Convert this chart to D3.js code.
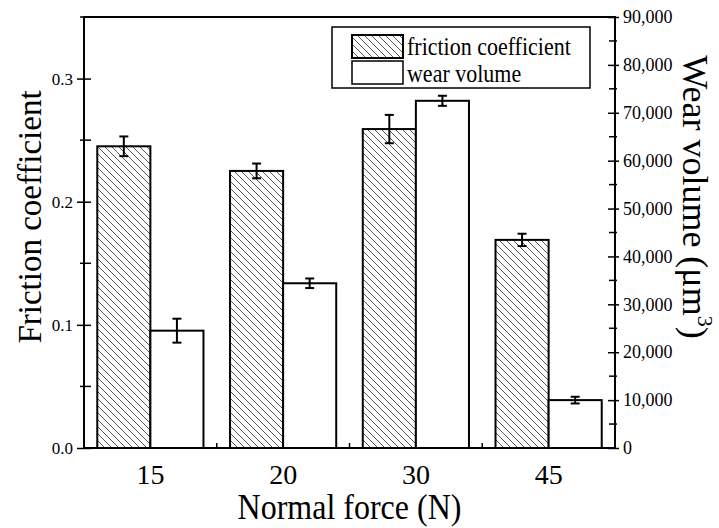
<!DOCTYPE html>
<html lang="en">
    <head>
        <meta charset="UTF-8">
        <style>
            html, body{
                margin: 0;
                padding: 0;
                background: #fff;
            }
            svg text{
                font-family: 'Liberation Serif', 'Times New Roman', serif;
                fill: #000;
            }
        </style>
    </head>
    <body>
        <svg id="chart" width="719" height="528"></svg>

        <script src="https://cdnjs.cloudflare.com/ajax/libs/d3/7.8.5/d3.min.js"></script>
        <script>
            // data
            const categories = ['15', '20', '30', '45']
            const frictionValues = [0.245, 0.225, 0.259, 0.169]
            const frictionErrors = [0.008, 0.006, 0.0115, 0.005]
            const wearValues = [24500, 34400, 72500, 10000]
            const wearErrors = [2500, 1000, 1050, 700]
            const leftTickValues = [0, 0.1, 0.2, 0.3]
            const rightTickValues = [0, 10000, 20000, 30000, 40000, 50000, 60000, 70000, 80000, 90000]
            const seriesNames = ['friction coefficient', 'wear volume']

            const settings = {
                width: 719,
                height: 528,
                margin: {left: 84, right: 104, top: 17, bottom: 80}
            }
            const innerLeft = settings.margin.left
            const innerRight = settings.width - settings.margin.right
            const innerTop = settings.margin.top
            const innerBottom = settings.height - settings.margin.bottom

            const svg = d3.select('#chart')

            // hatch pattern
            const defs = svg.append('defs')
            defs.append('pattern')
                .attr('id', 'hatch')
                .attr('patternUnits', 'userSpaceOnUse')
                .attr('width', 7)
                .attr('height', 7)
                .append('path')
                .attr('d', 'M0,0 L7,7 M-1,6 L1,8 M6,-1 L8,1')
                .attr('stroke', '#444')
                .attr('stroke-width', 0.9)

            // scales
            const x = d3.scaleBand()
                .domain(categories)
                .range([innerLeft, innerRight])
                .paddingInner(0.2)
                .paddingOuter(0.1)
            const xSub = d3.scaleBand()
                .domain(seriesNames)
                .range([0, x.bandwidth()])
            const yL = d3.scaleLinear().domain([0, 0.35]).range([innerBottom, innerTop])
            const yR = d3.scaleLinear().domain([0, 90000]).range([innerBottom, innerTop])

            // bars
            const rows = categories.map((c, i) => ({
                cat: c,
                f: frictionValues[i], fe: frictionErrors[i],
                w: wearValues[i], we: wearErrors[i]
            }))
            const barGroup = svg.append('g')
            barGroup.selectAll('rect.friction')
                .data(rows).join('rect')
                .attr('class', 'friction')
                .attr('x', d => x(d.cat) + xSub(seriesNames[0]))
                .attr('y', d => yL(d.f))
                .attr('width', xSub.bandwidth())
                .attr('height', d => yL(0) - yL(d.f))
                .attr('fill', 'url(#hatch)')
                .attr('stroke', '#000')
                .attr('stroke-width', 2)
            barGroup.selectAll('rect.wear')
                .data(rows).join('rect')
                .attr('class', 'wear')
                .attr('x', d => x(d.cat) + xSub(seriesNames[1]))
                .attr('y', d => yR(d.w))
                .attr('width', xSub.bandwidth())
                .attr('height', d => yR(0) - yR(d.w))
                .attr('fill', '#fff')
                .attr('stroke', '#000')
                .attr('stroke-width', 2)

            // error bars
            function errorBar(cx, yTop, yBot){
                const g = barGroup.append('g').attr('stroke', '#000').attr('stroke-width', 2)
                g.append('line').attr('x1', cx).attr('x2', cx).attr('y1', yTop).attr('y2', yBot)
                g.append('line').attr('x1', cx - 4.5).attr('x2', cx + 4.5).attr('y1', yTop).attr('y2', yTop)
                g.append('line').attr('x1', cx - 4.5).attr('x2', cx + 4.5).attr('y1', yBot).attr('y2', yBot)
            }
            rows.forEach(d => {
                const cf = x(d.cat) + xSub(seriesNames[0]) + xSub.bandwidth() / 2
                errorBar(cf, yL(d.f + d.fe), yL(d.f - d.fe))
                const cw = x(d.cat) + xSub(seriesNames[1]) + xSub.bandwidth() / 2
                errorBar(cw, yR(d.w + d.we), yR(d.w - d.we))
            })

            // frame
            svg.append('rect')
                .attr('x', innerLeft).attr('y', innerTop)
                .attr('width', innerRight - innerLeft).attr('height', innerBottom - innerTop)
                .attr('fill', 'none').attr('stroke', '#000').attr('stroke-width', 2)

            // left axis
            const leftAxis = svg.append('g')
                .attr('transform', `translate(${innerLeft},0)`)
                .call(d3.axisLeft(yL).tickValues(leftTickValues).tickFormat(d3.format('.1f')).tickSize(7).tickPadding(4))
            leftAxis.select('.domain').remove()
            leftAxis.selectAll('.tick line').attr('x1', 7).attr('stroke-width', 1.5)
            leftAxis.selectAll('.tick text').attr('font-size', 17).attr('font-family', 'Liberation Serif')
            svg.append('g').selectAll('line')
                .data(yL.ticks(7).filter(v => !leftTickValues.some(t => Math.abs(t - v) < 1e-9)))
                .join('line')
                .attr('x1', innerLeft - 4).attr('x2', innerLeft + 7)
                .attr('y1', d => yL(d)).attr('y2', d => yL(d))
                .attr('stroke', '#000').attr('stroke-width', 1.5)

            // right axis
            const rightAxis = svg.append('g')
                .attr('transform', `translate(${innerRight},0)`)
                .call(d3.axisRight(yR).tickValues(rightTickValues).tickFormat(d3.format(',')).tickSize(4).tickPadding(4))
            rightAxis.select('.domain').remove()
            rightAxis.selectAll('.tick line').attr('x1', -7).attr('stroke-width', 1.5)
            rightAxis.selectAll('.tick text').attr('font-size', 18).attr('font-family', 'Liberation Serif')
            svg.append('g').selectAll('line')
                .data(yR.ticks(18).filter(v => !rightTickValues.includes(v)))
                .join('line')
                .attr('x1', innerRight - 6).attr('x2', innerRight + 2)
                .attr('y1', d => yR(d)).attr('y2', d => yR(d))
                .attr('stroke', '#000').attr('stroke-width', 1.5)

            // bottom axis: small inward ticks at group boundaries, labels at centres
            const bottomAxis = svg.append('g')
                .attr('transform', `translate(0,${innerBottom})`)
                .call(d3.axisBottom(x).tickSize(0).tickPadding(16))
            bottomAxis.select('.domain').remove()
            bottomAxis.selectAll('.tick text').attr('font-size', 28).attr('font-family', 'Liberation Serif')
            svg.append('g').selectAll('line')
                .data(categories.slice(1))
                .join('line')
                .attr('x1', d => x(d) - x.step() * x.paddingInner() / 2)
                .attr('x2', d => x(d) - x.step() * x.paddingInner() / 2)
                .attr('y1', innerBottom).attr('y2', innerBottom - 5)
                .attr('stroke', '#000').attr('stroke-width', 1.5)

            // titles (glyphs in the picture are a little taller than the font)
            function stretchedText(tx, ty, rot, size, sy, str){
                return svg.append('text')
                    .attr('transform', `translate(${tx},${ty}) rotate(${rot}) scale(1,${sy})`)
                    .attr('text-anchor', 'middle')
                    .attr('font-size', size)
                    .text(str)
            }
            stretchedText((innerLeft + innerRight) / 2, 519, 0, 32, 1.12, 'Normal force (N)')
            stretchedText(41, 217, -90, 33, 1.05, 'Friction coefficient')
            const rt = stretchedText(683, 197, 90, 36, 1.0, null)
            rt.append('tspan').text('Wear volume (\u03bcm')
            rt.append('tspan').attr('font-size', 22).attr('dy', -15).text('3')
            rt.append('tspan').attr('dy', 15).text(')')

            // legend
            const legend = svg.append('g')
            legend.append('rect')
                .attr('x', 332).attr('y', 27).attr('width', 258).attr('height', 61)
                .attr('fill', '#fff').attr('stroke', '#000').attr('stroke-width', 1.5)
            const legendFills = ['url(#hatch)', '#fff']
            seriesNames.forEach((name, i) => {
                legend.append('rect')
                    .attr('x', 352).attr('y', 35 + i * 26).attr('width', 51).attr('height', 23)
                    .attr('fill', legendFills[i]).attr('stroke', '#000').attr('stroke-width', i === 0 ? 2 : 1.5)
                legend.append('text')
                    .attr('transform', `translate(407,${55 + i * 27}) scale(1,1.15)`)
                    .attr('font-size', 22)
                    .text(name)
            })
        </script>
    </body>
</html>
